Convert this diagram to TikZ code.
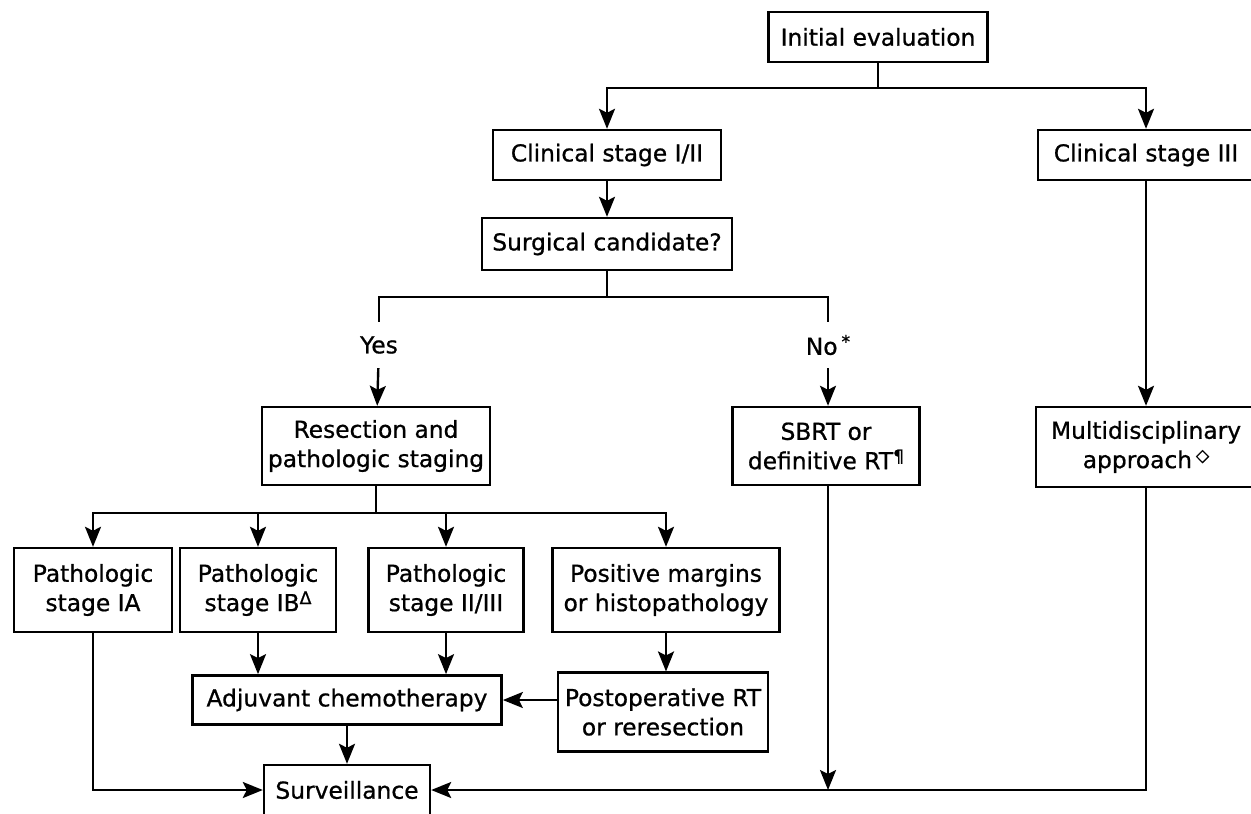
\documentclass[tikz,border=0pt]{standalone}
\usepackage{fontspec}
\setmainfont{DejaVu Sans}[FakeBold=0.8]
\usetikzlibrary{arrows.meta}
\newcommand{\fnmark}[1]{\raisebox{0.55ex}{\fontsize{13}{13}\selectfont #1}}
\tikzset{
  box/.style={draw, line width=1.8pt, align=center, inner sep=0pt, font=\fontsize{17.5}{22}\selectfont},
  lbl/.style={inner sep=0pt, minimum height=33pt, font=\fontsize{17.5}{22}\selectfont},
  arr/.style={-{Stealth[length=15pt,width=12pt,inset=3pt]}},
}
\begin{document}
\begin{tikzpicture}[x=0.75pt, y=-0.75pt, line width=1.8pt]
  \clip (0,0) rectangle (1251,813);
  % top levels
  \node[box, minimum width=164pt, minimum height=37.5pt] (init) at (878,37) {Initial evaluation};
  \node[box, minimum width=171pt, minimum height=37.5pt] (cs12) at (607,155) {Clinical stage I/II};
  \node[box, minimum width=162pt, minimum height=37.5pt] (cs3) at (1146,155) {Clinical stage III};
  \node[box, minimum width=187.5pt, minimum height=39pt] (surg) at (607,244) {Surgical candidate?};
  \node[lbl] (yes) at (379,345) {Yes};
  \node[lbl] (no) at (828,345) {No\,\fnmark{*}};
  \node[box, minimum width=171pt, minimum height=58.5pt] (res) at (376,446) {Resection and\\pathologic staging};
  \node[box, minimum width=140pt, minimum height=58.5pt] (sbrt) at (826,446) {SBRT or\\definitive RT\fnmark{¶}};
  \node[box, minimum width=165pt, minimum height=60pt] (multi) at (1146,447) {Multidisciplinary\\approach\,\fnmark{◇}};
  % pathologic stages
  \node[box, minimum width=118.5pt, minimum height=63pt] (p1) at (93,590) {Pathologic\\stage IA};
  \node[box, minimum width=117pt, minimum height=63pt] (p2) at (258,590) {Pathologic\\stage IB\fnmark{Δ}};
  \node[box, minimum width=116pt, minimum height=63pt] (p3) at (446,590) {Pathologic\\stage II/III};
  \node[box, minimum width=170pt, minimum height=63pt] (p4) at (666,590) {Positive margins\\or histopathology};
  \node[box, minimum width=232pt, minimum height=37pt] (adj) at (347,700) {Adjuvant chemotherapy};
  \node[box, minimum width=157.5pt, minimum height=59pt] (post) at (663,712) {Postoperative RT\\or reresection};
  \node[box, minimum width=124.5pt, minimum height=37.5pt] (surv) at (347,790) {Surveillance};
  % junctions
  \coordinate (j1) at (878,88);
  \coordinate (j2) at (607,297);
  \coordinate (j3) at (376,513);
  % connectors
  \draw (init) -- (j1);
  \draw[arr] (j1) -| (cs12.north);
  \draw[arr] (j1) -| (cs3.north);
  \draw[arr] (cs12) -- (surg);
  \draw (surg) -- (j2);
  \draw (j2) -| (yes.north);
  \draw (j2) -| (no.north);
  \draw[arr] (yes) -- (res);
  \draw[arr] (no) -- (no |- sbrt.north);
  \draw[arr] (cs3) -- (multi);
  \draw (res) -- (j3);
  \draw[arr] (j3) -| (p1.north);
  \draw[arr] (j3) -| (p2.north);
  \draw[arr] (j3) -| (p3.north);
  \draw[arr] (j3) -| (p4.north);
  \draw[arr] (p2) -- (p2 |- adj.north);
  \draw[arr] (p3) -- (p3 |- adj.north);
  \draw[arr] (p4) -- (p4 |- post.north);
  \draw[arr] (post.west |- adj) -- (adj.east);
  \draw[arr] (adj) -- (surv);
  \draw[arr] (p1) |- (surv);
  \draw[arr] (multi) |- (surv);
  \draw[arr] (no |- sbrt.south) -- (no |- surv);
\end{tikzpicture}
\end{document}
